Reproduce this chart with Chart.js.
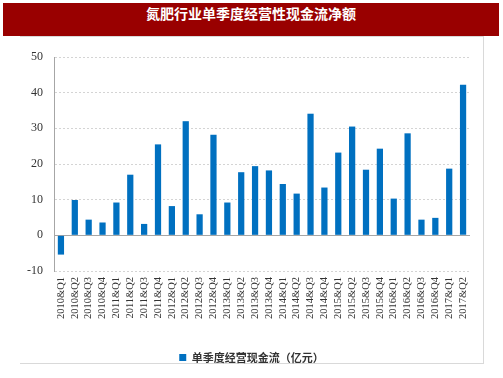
<!DOCTYPE html>
<html>
<head>
<meta charset="utf-8">
<script src="https://cdn.jsdelivr.net/npm/chart.js@4"></script>
<style>
  body { margin: 0; background: #fff; }
  #wrap { position: relative; width: 503px; height: 378px; }
  #title {
    position: absolute; left: 3px; top: 3px; width: 496px; height: 33px;
    background: #990000; color: #fff; text-align: center; line-height: 33px;
    font: bold 14px "Noto Sans CJK SC", sans-serif;
  }
  #frame {
    position: absolute; left: 20px; top: 36px; width: 463px; height: 326px;
    border-top: 1px solid #d9d9d9; border-right: 1px solid #d9d9d9; border-bottom: 1px solid #d9d9d9;
  }
  canvas { position: absolute; left: 0; top: 0; }
</style>
</head>
<body>
<div id="wrap">
  <div id="frame"></div>
  <div id="title">氮肥行业单季度经营性现金流净额</div>
  <canvas id="chart" width="503" height="378"></canvas>
</div>
<script>
const quarters = [
  "2010&Q1", "2010&Q2", "2010&Q3", "2010&Q4",
  "2011&Q1", "2011&Q2", "2011&Q3", "2011&Q4",
  "2012&Q1", "2012&Q2", "2012&Q3", "2012&Q4",
  "2013&Q1", "2013&Q2", "2013&Q3", "2013&Q4",
  "2014&Q1", "2014&Q2", "2014&Q3", "2014&Q4",
  "2015&Q1", "2015&Q2", "2015&Q3", "2015&Q4",
  "2016&Q1", "2016&Q2", "2016&Q3", "2016&Q4",
  "2017&Q1", "2017&Q2"
];
const cashFlow = [
  -5.4, 9.9, 4.4, 3.6,
  9.2, 17.0, 3.2, 25.5,
  8.2, 32.0, 5.9, 28.2,
  9.2, 17.7, 19.4, 18.2,
  14.4, 11.7, 34.1, 13.4,
  23.2, 30.5, 18.4, 24.3,
  10.3, 28.6, 4.4, 4.9,
  18.7, 42.2
];
const seriesName = "单季度经营现金流（亿元）";
const yTicks = { min: -10, max: 50, step: 10 };

const ctx = document.getElementById("chart").getContext("2d");
new Chart(ctx, {
  type: "bar",
  data: {
    labels: quarters,
    datasets: [{
      label: seriesName,
      data: cashFlow,
      backgroundColor: "#0070c0",
      barPercentage: 0.45,
      categoryPercentage: 1.0
    }]
  },
  options: {
    responsive: false,
    animation: false,
    layout: { padding: { top: 57, right: 0, bottom: 5, left: 0 } },
    plugins: {
      title: { display: false },
      tooltip: { enabled: false },
      legend: {
        position: "bottom",
        labels: {
          boxWidth: 7,
          boxHeight: 7,
          padding: 10,
          color: "#333",
          font: { family: "Noto Sans CJK SC", size: 11, weight: "bold" }
        }
      }
    },
    scales: {
      x: {
        grid: { display: false, drawTicks: false },
        border: { display: false },
        ticks: {
          autoSkip: false,
          minRotation: 90,
          maxRotation: 90,
          padding: 6,
          color: "#333",
          font: { family: "Liberation Serif", size: 10.5 }
        },
        afterFit: function(scale) { scale.height = 71; }
      },
      y: {
        min: yTicks.min,
        max: yTicks.max,
        grid: {
          drawTicks: false,
          color: c => (c.tick && c.tick.value === 0) ? "#a6a6a6" : "#d4d4d4",
          lineWidth: 1
        },
        border: {
          display: true,
          color: "#a6a6a6",
          dash: c => (c.tick && c.tick.value !== 0) ? [2, 2] : []
        },
        ticks: {
          stepSize: yTicks.step,
          padding: 11,
          color: "#333",
          font: { family: "Liberation Serif", size: 12 }
        },
        afterFit: function(scale) { scale.width = 54; }
      },
      // empty right-hand spacer so the legend stays centred on the page
      spacer: {
        type: "linear",
        position: "right",
        display: true,
        grid: { display: false, drawTicks: false },
        border: { display: false },
        ticks: { display: false },
        afterFit: function(scale) { scale.width = 33; }
      }
    }
  }
});
</script>
</body>
</html>
